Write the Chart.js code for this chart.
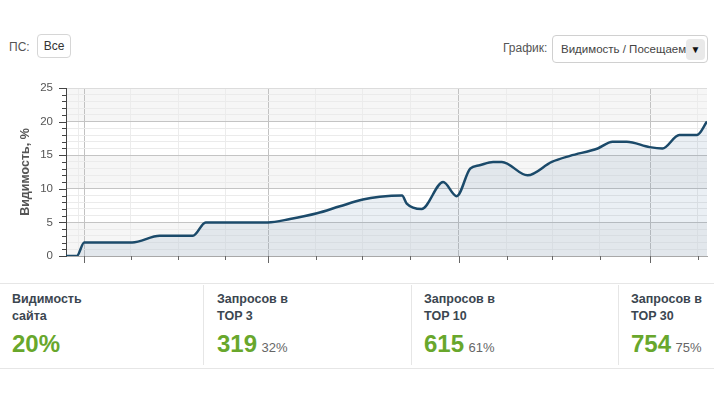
<!DOCTYPE html>
<html><head><meta charset="utf-8">
<script src="https://cdn.jsdelivr.net/npm/chart.js@4/dist/chart.umd.min.js"></script>
<style>
html,body{margin:0;padding:0;background:#fff;width:714px;height:395px;overflow:hidden;font-family:"Liberation Sans",Arial,sans-serif;}
.abs{position:absolute;white-space:nowrap;}
#ps{left:9px;top:39px;font-size:12px;color:#555;line-height:16px;}
#all{left:37px;top:34px;width:32px;height:22px;border:1px solid #d6d6d6;border-radius:4px;font-size:12px;color:#333;line-height:22px;text-align:center;}
#gr{left:503px;top:40px;font-size:12px;color:#555;line-height:16px;}
#sel{left:552px;top:35px;width:154px;height:26px;border:1px solid #d0d0d0;border-radius:4px;overflow:hidden;}
#selt{position:absolute;left:8px;top:5px;width:126px;overflow:hidden;font-size:11.5px;color:#444;line-height:16px;}
#arr{position:absolute;right:2px;top:3px;width:19px;height:21px;background:#e9e9e9;border-radius:4px;font-size:10px;line-height:21px;text-align:center;color:#111;}
#wrap{position:absolute;left:0;top:80px;width:714px;height:190px;}
.hl{position:absolute;left:0;width:714px;height:1px;background:#e6e6e6;}
.vl{position:absolute;top:285px;width:1px;height:80px;background:#e6e6e6;}
.st{position:absolute;top:291px;}
.st .h{font-size:12.5px;font-weight:bold;color:#3b4650;line-height:17px;}
.st .v{margin-top:5px;line-height:28px;white-space:nowrap;}
.st .n{font-size:24px;font-weight:bold;color:#68a72c;}
.st .p{font-size:13px;color:#666;}
</style></head>
<body>
<div class="abs" id="ps">ПС:</div>
<div class="abs" id="all">Все</div>
<div class="abs" id="gr">График:</div>
<div class="abs" id="sel"><div id="selt">Видимость / Посещаемость</div><div id="arr">▼</div></div>
<div id="wrap"><canvas id="c" width="714" height="190"></canvas></div>
<div class="hl" style="top:283px"></div>
<div class="hl" style="top:368px"></div>
<div id="stats"></div>
<script>
// ---- data (x = day index, y = visibility %) ----
const days       = [0, 1.6, 2.7, 9.8, 13.9, 18.8, 20.7, 29.9, 33.2, 37.2, 40.6, 44.0, 46.5, 49.8, 50.5, 52.7, 55.9, 57.9, 59.9, 61.3, 63.3, 64.6, 68.4, 72.0, 74.7, 78.8, 81.0, 83.1, 86.5, 88.4, 90.9, 93.5, 95.0];
const visibility = [0, 0,   2,   2,   3,    3,    5,    5,    5.5,  6.35, 7.4,  8.4,  8.8,  9.0,  7.8,  7.0,  11.0, 8.9,  13.0, 13.5, 14.0, 14.0, 12.0, 14.0, 14.9, 16.0, 17.0, 17.0, 16.2, 16.0, 18.0, 18.0, 20.0];
const xMajorTicks = [2.7, 30.0, 58.2, 86.6];
const xMinorTicks = [1.8, 9.6, 16.6, 23.6, 37.0, 43.9, 51.0, 65.3, 72.1, 79.1, 93.6];
const yMajorStep = 5;
const yMax = 25;
const yAxisTitle = 'Видимость, %';

const statTitles   = [['Видимость', 'сайта'], ['Запросов в', 'TOP 3'], ['Запросов в', 'TOP 10'], ['Запросов в', 'TOP 30']];
const statNumbers  = ['20%', '319', '615', '754'];
const statPercents = ['', '32%', '61%', '75%'];
const statLeft = [12, 217, 424, 631];
const sepLeft = [203, 411, 618];

// ---- stats block ----
const stats = document.getElementById('stats');
statTitles.forEach((t, i) => {
  const d = document.createElement('div');
  d.className = 'st';
  d.style.left = statLeft[i] + 'px';
  d.innerHTML = '<div class="h">' + t[0] + '<br>' + t[1] + '</div><div class="v"><span class="n">' + statNumbers[i] + '</span>' +
    (statPercents[i] ? ' <span class="p">' + statPercents[i] + '</span>' : '') + '</div>';
  stats.appendChild(d);
});
sepLeft.forEach(x => { const s = document.createElement('div'); s.className = 'vl'; s.style.left = x + 'px'; document.body.appendChild(s); });

// ---- chart ----
const points = days.map((d, i) => ({x: d, y: visibility[i]}));

const decor = {
  id: 'decor',
  beforeDraw(chart) {
    const {ctx, chartArea: a, scales: {y}} = chart;
    ctx.save();
    for (let v = 0; v < yMax; v += yMajorStep) {
      if ((v / yMajorStep) % 2 === 0) {
        const top = y.getPixelForValue(v + yMajorStep), bot = y.getPixelForValue(v);
        ctx.fillStyle = '#f6f6f6';
        ctx.fillRect(a.left, top, a.right - a.left, bot - top);
      }
    }
    ctx.restore();
  },
  afterDraw(chart) {
    const {ctx, chartArea: a, scales: {x, y}} = chart;
    ctx.save();
    ctx.lineWidth = 1;
    ctx.strokeStyle = '#444';
    for (let v = 0; v <= yMax; v++) {
      const py = Math.round(y.getPixelForValue(v)) + 0.5;
      const len = v % yMajorStep === 0 ? 7 : 4;
      ctx.beginPath(); ctx.moveTo(a.left - len, py); ctx.lineTo(a.left, py); ctx.stroke();
    }
    ctx.strokeStyle = '#666';
    xMajorTicks.concat(xMinorTicks.slice(1)).forEach(v => {
      const px = Math.round(x.getPixelForValue(v)) + 0.5;
      const len = xMajorTicks.includes(v) ? 7 : 4;
      ctx.beginPath(); ctx.moveTo(px, a.bottom); ctx.lineTo(px, a.bottom + len); ctx.stroke();
    });
    ctx.restore();
  }
};

new Chart(document.getElementById('c'), {
  type: 'line',
  data: { datasets: [{
    data: points,
    borderColor: '#1b4a6a',
    borderWidth: 2.5,
    backgroundColor: 'rgba(50,100,150,0.1)',
    fill: 'origin',
    pointRadius: 0,
    cubicInterpolationMode: 'monotone',
    tension: 0.4
  }]},
  options: {
    responsive: false,
    animation: false,
    layout: { padding: { top: 8, right: 7, left: 0, bottom: 0 } },
    plugins: { legend: { display: false }, tooltip: { enabled: false } },
    scales: {
      x: {
        type: 'linear', min: 0, max: 95,
        afterBuildTicks(s) { s.ticks = xMajorTicks.concat(xMinorTicks).sort((p, q) => p - q).map(v => ({value: v})); },
        afterFit(s) { s.height = 14; s.paddingLeft = 0; s.paddingRight = 0; },
        ticks: { display: false },
        grid: {
          drawTicks: false,
          color: c => xMajorTicks.includes(c.tick && c.tick.value) ? '#c2c2c2' : '#ececec'
        },
        border: { color: '#a8a8a8' }
      },
      y: {
        min: 0, max: yMax,
        afterFit(s) { s.width = 66; s.paddingTop = 0; s.paddingBottom = 0; },
        ticks: {
          stepSize: 1, autoSkip: false, padding: 13,
          color: '#555', font: { family: 'Liberation Sans', size: 11.5 },
          callback: v => (v % yMajorStep === 0 ? String(v) : '')
        },
        grid: {
          drawTicks: false,
          color: c => {
            const v = c.tick.value;
            if (v === yMax) return '#dcdcdc';
            return v % yMajorStep === 0 ? '#c4c4c4' : '#ebebeb';
          }
        },
        border: { color: '#444' },
        title: {
          display: true, text: yAxisTitle, color: '#555',
          font: { family: 'Liberation Sans', size: 12.5, weight: 'bold' },
          padding: { top: 18, bottom: 0 }
        }
      }
    }
  },
  plugins: [decor]
});
</script>
</body></html>
